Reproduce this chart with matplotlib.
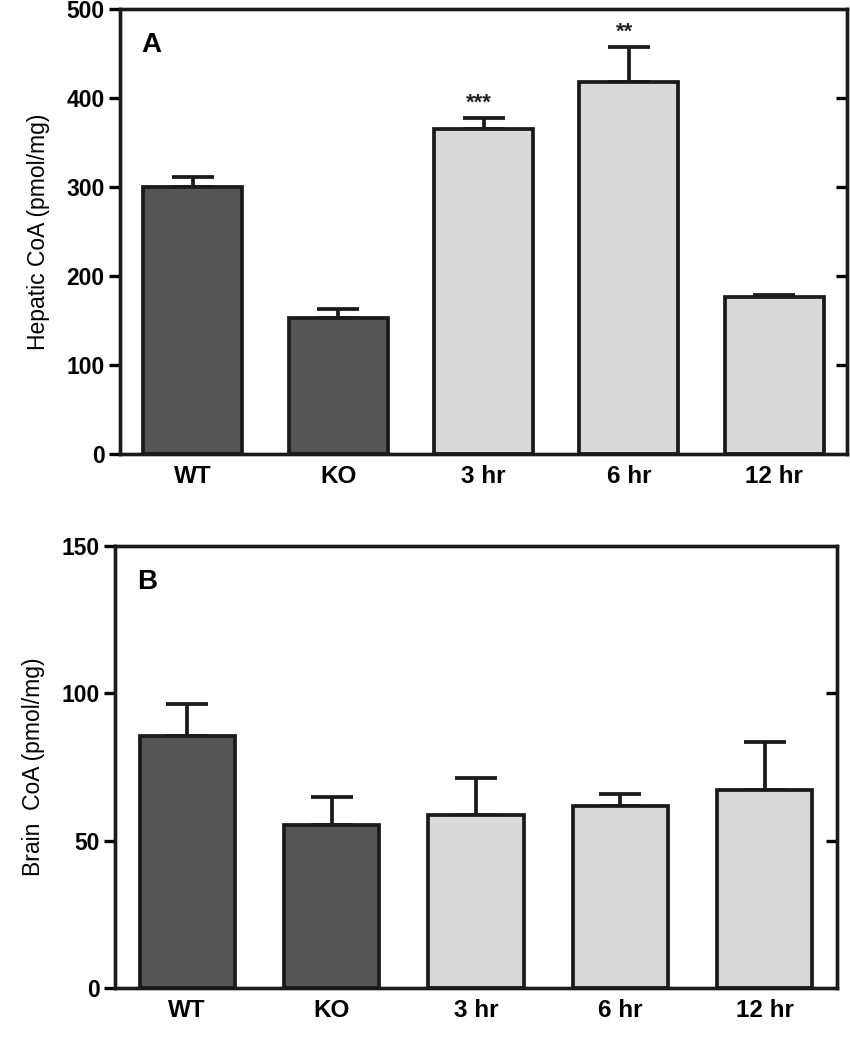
import numpy as np
import matplotlib.pyplot as plt

plt.rcParams['font.family'] = ['Liberation Sans', 'DejaVu Sans']

groups = ['WT', 'KO', '3 hr', '6 hr', '12 hr']
bar_colors = ['#555555', '#555555', '#d9d9d9', '#d9d9d9', '#d9d9d9']

# panel A: hepatic CoA
hepatic_mean = [300, 153, 365, 418, 176]
hepatic_sem = [11, 10, 12, 39, 3]
hepatic_stars = ['', '', '***', '**', '']

# panel B: brain CoA
brain_mean = [85.6, 55.4, 58.7, 61.9, 67.2]
brain_sem = [10.7, 9.5, 12.6, 3.9, 16.2]
brain_stars = ['', '', '', '', '']

EDGE = '#1a1a1a'


def draw_panel(ax, means, sems, stars, ylim, yticks, ylabel, letter, width):
    x = np.arange(len(groups))
    ax.bar(x, means, width=width, color=bar_colors, edgecolor=EDGE,
           linewidth=2.7, zorder=2)
    ax.errorbar(x, means, yerr=[np.zeros(len(sems)), sems], fmt='none',
                ecolor=EDGE, elinewidth=2.7, capsize=15, capthick=2.7, zorder=1)
    for xi, m, s, st in zip(x, means, sems, stars):
        if st:
            ax.text(xi - 0.03, m + s + ylim[1] * 0.01, st, ha='center',
                    va='bottom', fontsize=16, fontweight='bold', color='#222222')

    ax.set_xlim(-0.5, len(groups) - 0.5)
    ax.set_ylim(*ylim)
    ax.set_yticks(yticks)
    ax.set_yticklabels([str(t) for t in yticks], fontsize=16.5, fontweight='bold')
    ax.set_xticks(x)
    ax.set_xticklabels(groups, fontsize=17.5, fontweight='bold')
    ax.tick_params(axis='x', length=0, pad=8)
    ax.tick_params(axis='y', direction='out', length=8, width=2.4, pad=3)
    ax.set_ylabel(ylabel, fontsize=16.5, labelpad=12)

    # inward ticks on the right side
    ax2 = ax.twinx()
    ax2.set_ylim(*ylim)
    ax2.set_yticks(yticks[1:-1])
    ax2.set_yticklabels([])
    ax2.tick_params(axis='y', direction='in', length=8, width=2.4)

    for a in (ax, ax2):
        for sp in a.spines.values():
            sp.set_linewidth(2.4)
            sp.set_color(EDGE)

    ax.text(0.03, 0.918, letter, transform=ax.transAxes, fontsize=20,
            fontweight='bold', va='center', ha='left')


fig = plt.figure(figsize=(8.5, 10.5), dpi=100)

ax_a = fig.add_axes([120 / 850, 1 - 454 / 1050, (847 - 120) / 850, (454 - 9) / 1050])
draw_panel(ax_a, hepatic_mean, hepatic_sem, hepatic_stars, (0, 500),
           [0, 100, 200, 300, 400, 500], 'Hepatic CoA (pmol/mg)', 'A', 0.68)

ax_b = fig.add_axes([115 / 850, 1 - 988 / 1050, (837 - 115) / 850, (988 - 546) / 1050])
draw_panel(ax_b, brain_mean, brain_sem, brain_stars, (0, 150),
           [0, 50, 100, 150], 'Brain  CoA (pmol/mg)', 'B', 0.66)

fig.savefig('out.png', dpi=100)
